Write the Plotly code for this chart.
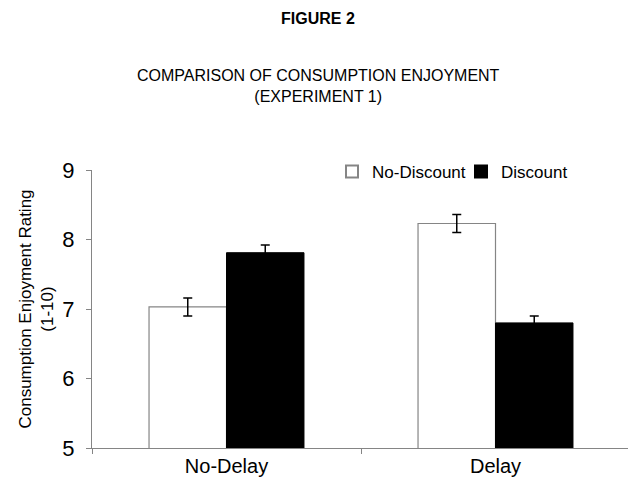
import plotly.graph_objects as go

categories = ["No-Delay", "Delay"]
no_discount = [7.03, 8.23]
no_discount_err = [0.13, 0.13]
discount = [7.81, 6.80]
discount_err = [0.11, 0.10]
series_names = ["No-Discount", "Discount"]
y_ticks = [5, 6, 7, 8, 9]

FONT = "Liberation Sans, Arial, sans-serif"
GREY = "#858585"

# page body adds an 8px offset; margins compensate
OFF = 8
W, H = 636, 485
L, T = 92 - OFF, 170 - OFF
R = W - (630 - OFF)
B = H - (448 - OFF)
PW = 630 - 92
PH = 448 - 170

fig = go.Figure()
fig.add_trace(go.Bar(
    x=categories, y=no_discount, name=series_names[0],
    marker=dict(color="white", line=dict(color=GREY, width=1.2)),
    error_y=dict(type="data", array=no_discount_err, color="black", thickness=1.5, width=4.5),
))
fig.add_trace(go.Bar(
    x=categories, y=discount, name=series_names[1],
    marker=dict(color="black", line=dict(color="black", width=1)),
    error_y=dict(type="data", array=discount_err, color="black", thickness=1.5, width=4.5),
))

fig.update_layout(
    width=W, height=H,
    margin=dict(l=L, r=R, t=T, b=B),
    paper_bgcolor="white", plot_bgcolor="white",
    barmode="group", bargap=0.424, bargroupgap=0,
    font=dict(family=FONT, color="black"),
    title=dict(text="<b>FIGURE 2</b>", x=(318 - OFF) / W, xanchor="center",
               y=1 - (18 - OFF) / H, yanchor="middle",
               font=dict(size=16, family=FONT, color="black")),
    showlegend=True,
    legend=dict(orientation="h", x=(332 - 92) / PW, xanchor="left",
                y=(448 - 172) / PH, yanchor="middle", entrywidth=84, entrywidthmode="pixels",
                font=dict(size=17, family=FONT, color="black"), bgcolor="rgba(0,0,0,0)",
                itemsizing="constant", traceorder="normal"),
    annotations=[dict(
        text="COMPARISON OF CONSUMPTION ENJOYMENT<br>(EXPERIMENT 1)",
        xref="paper", yref="paper", x=(318 - 92) / PW, xanchor="center",
        y=(448 - 86) / PH, yanchor="middle", showarrow=False,
        font=dict(size=16, family=FONT, color="black"))],
)
fig.update_xaxes(showline=True, linecolor=GREY, linewidth=1.2, ticks="outside",
                 tickson="boundaries", ticklen=5, tickcolor=GREY,
                 tickfont=dict(size=20, family=FONT, color="black"), showgrid=False)
fig.update_yaxes(range=[5, 9], tickvals=y_ticks, showline=True, linecolor=GREY, linewidth=1.2,
                 ticks="outside", ticklen=5, tickcolor=GREY, showgrid=False, zeroline=False,
                 ticklabelstandoff=7,
                 tickfont=dict(size=22, family=FONT, color="black"),
                 title=dict(text="Consumption Enjoyment Rating<br>(1-10)", standoff=4,
                            font=dict(size=17, family=FONT, color="black")))

fig.write_html("out.html")
